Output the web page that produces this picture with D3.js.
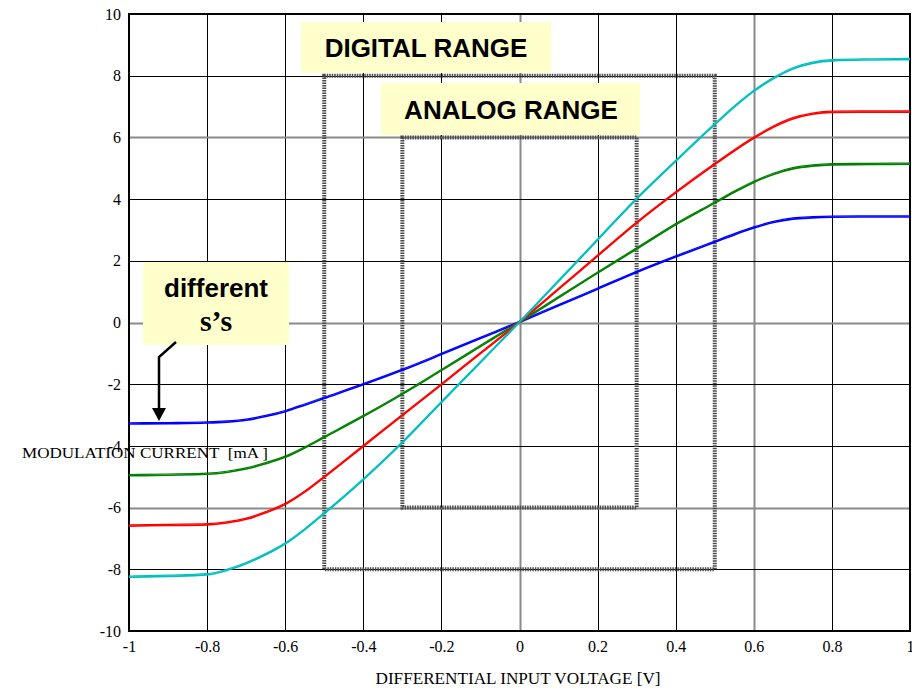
<!DOCTYPE html>
<html>
<head>
<meta charset="utf-8">
<script src="https://cdn.jsdelivr.net/npm/d3@7"></script>
<style>
  body { margin: 0; background: #fff; }
  svg { display: block; }
</style>
</head>
<body>
<div class="graph"></div>
<script>
// values
const voltage = [-1, -0.9, -0.8, -0.75, -0.7, -0.65, -0.6, -0.55, -0.5, -0.4, -0.3, -0.2, -0.1, 0, 0.1, 0.2, 0.3, 0.4, 0.5, 0.55, 0.6, 0.65, 0.7, 0.75, 0.8, 0.9, 1];
const blueCurrent  = [-3.29, -3.28, -3.26, -3.23, -3.17, -3.05, -2.89, -2.68, -2.46, -2.02, -1.55, -1.04, -0.52, 0, 0.54, 1.08, 1.62, 2.12, 2.6, 2.84, 3.06, 3.24, 3.35, 3.39, 3.41, 3.42, 3.42];
const greenCurrent = [-4.97, -4.95, -4.92, -4.86, -4.75, -4.58, -4.37, -4.07, -3.73, -3.05, -2.33, -1.56, -0.78, 0, 0.8, 1.6, 2.38, 3.17, 3.87, 4.22, 4.54, 4.8, 4.98, 5.07, 5.11, 5.12, 5.13];
const redCurrent   = [-6.6, -6.58, -6.56, -6.5, -6.38, -6.17, -5.9, -5.5, -5.02, -4.02, -3.02, -2.02, -1.01, 0, 1.07, 2.15, 3.22, 4.2, 5.12, 5.56, 5.97, 6.33, 6.6, 6.75, 6.81, 6.82, 6.82];
const cyanCurrent  = [-8.26, -8.23, -8.18, -8.04, -7.82, -7.53, -7.18, -6.72, -6.2, -5.1, -3.9, -2.6, -1.3, 0, 1.33, 2.67, 4.0, 5.22, 6.41, 6.98, 7.49, 7.9, 8.22, 8.4, 8.48, 8.51, 8.52];
const series = [
  { name: "blue", values: blueCurrent, color: "#0000ff" },
  { name: "green", values: greenCurrent, color: "#008000" },
  { name: "red", values: redCurrent, color: "#ff0000" },
  { name: "cyan", values: cyanCurrent, color: "#00bfbf" }
];
const xTicks = [-1, -0.8, -0.6, -0.4, -0.2, 0, 0.2, 0.4, 0.6, 0.8, 1];
const yTicks = [-10, -8, -6, -4, -2, 0, 2, 4, 6, 8, 10];
const greyX = [0, 0.6];
const greyY = [-6, 0, 6];
// ranges: [x0, x1, y0, y1]
const digitalRange = [-0.5, 0.5, -8, 8];
const analogRange = [-0.3, 0.3, -6, 6];

const W = 912, H = 690;
const margin = { left: 129, right: 2, top: 14, bottom: 59 };
const width = W - margin.left - margin.right;
const height = H - margin.top - margin.bottom;

const svg = d3.select(".graph").append("svg").attr("width", W).attr("height", H);
const g = svg.append("g").attr("transform", "translate(" + margin.left + "," + margin.top + ")");

const xScale = d3.scaleLinear().domain([-1, 1]).range([0, width]);
const yScale = d3.scaleLinear().domain([-10, 10]).range([height, 0]);

// grid
g.append("g").selectAll("line").data(xTicks).join("line")
  .attr("x1", d => Math.round(xScale(d)) + 0.5).attr("x2", d => Math.round(xScale(d)) + 0.5)
  .attr("y1", 0).attr("y2", height)
  .attr("stroke", d => greyX.includes(d) ? "#8a8a8a" : "#000")
  .attr("stroke-width", d => greyX.includes(d) ? 2 : 1);
g.append("g").selectAll("line").data(yTicks).join("line")
  .attr("y1", d => Math.round(yScale(d)) + 0.5).attr("y2", d => Math.round(yScale(d)) + 0.5)
  .attr("x1", 0).attr("x2", width)
  .attr("stroke", d => greyY.includes(d) ? "#8a8a8a" : "#000")
  .attr("stroke-width", d => greyY.includes(d) ? 2 : 1);

// axes
const serif = "'Liberation Serif', 'Times New Roman', serif";
const xaxis = d3.axisBottom(xScale).tickValues(xTicks).tickSize(0).tickPadding(10)
  .tickFormat(d => String(d));
g.append("g").attr("transform", "translate(0," + height + ")").call(xaxis)
  .attr("font-family", serif).attr("font-size", 16)
  .call(a => a.select(".domain").remove())
  .selectAll("text").attr("fill", "#000");
const yaxis = d3.axisLeft(yScale).tickValues(yTicks).tickSize(0).tickPadding(8)
  .tickFormat(d => String(d));
g.append("g").call(yaxis)
  .attr("font-family", serif).attr("font-size", 16)
  .call(a => a.select(".domain").remove())
  .selectAll("text").attr("fill", "#000");

g.append("rect").attr("x", 0).attr("y", 0).attr("width", width).attr("height", height)
  .attr("fill", "none").attr("stroke", "#000").attr("stroke-width", 2);

// range boxes
const rangeRect = (r) => g.append("rect")
  .attr("x", xScale(r[0])).attr("y", yScale(r[3]))
  .attr("width", xScale(r[1]) - xScale(r[0])).attr("height", yScale(r[2]) - yScale(r[3]))
  .attr("fill", "none").attr("stroke", "#4a4a4a").attr("stroke-width", 4)
  .attr("stroke-dasharray", "1.5,1");
rangeRect(digitalRange);
rangeRect(analogRange);

// curves (drawn twice, slightly offset, like the doubled traces)
const line = d3.line().x((d, i) => xScale(voltage[i])).y(d => yScale(d)).curve(d3.curveMonotoneX);
series.forEach(s => {
  g.append("path").attr("d", line(s.values)).attr("fill", "none")
    .attr("stroke", s.color).attr("stroke-width", 1.6);
  g.append("path").attr("d", line(s.values)).attr("fill", "none")
    .attr("transform", "translate(0,-1.2)")
    .attr("stroke", s.color).attr("stroke-width", 1.2);
});

// yellow labels
const sans = "'Liberation Sans', Arial, sans-serif";
const note = (x, y, w, h) => svg.append("rect").attr("x", x).attr("y", y).attr("width", w).attr("height", h).attr("fill", "#ffffcc");
note(301, 22, 250, 51);
svg.append("text").attr("x", 426).attr("y", 57).attr("text-anchor", "middle")
  .style("font-family", sans).style("font-weight", "bold").style("font-size", "26px").text("DIGITAL RANGE");
note(381, 83, 259, 52);
svg.append("text").attr("x", 511).attr("y", 119).attr("text-anchor", "middle")
  .style("font-family", sans).style("font-weight", "bold").style("font-size", "26px").text("ANALOG RANGE");
note(143, 262, 146, 83);
svg.append("text").attr("x", 216).attr("y", 297).attr("text-anchor", "middle")
  .style("font-family", sans).style("font-weight", "bold").style("font-size", "26px").text("different");
svg.append("text").attr("x", 216).attr("y", 331).attr("text-anchor", "middle")
  .style("font-family", serif).style("font-weight", "bold").style("font-size", "30px")
  .text("s’s");

// arrow
svg.append("path").attr("d", "M176,342 L159,357 L159,409").attr("fill", "none")
  .attr("stroke", "#000").attr("stroke-width", 2.5);
svg.append("path").attr("d", "M152,408 L166,408 L159,421 Z").attr("fill", "#000");

// axis titles
svg.append("text").attr("x", 22).attr("y", 458)
  .style("font-family", serif).style("font-size", "15px")
  .attr("xml:space", "preserve").attr("textLength", 246).attr("lengthAdjust", "spacingAndGlyphs")
  .text("MODULATION CURRENT  [mA ]");
svg.append("text").attr("x", 518).attr("y", 684).attr("text-anchor", "middle")
  .style("font-family", serif).style("font-size", "16px")
  .attr("textLength", 285).attr("lengthAdjust", "spacingAndGlyphs")
  .text("DIFFERENTIAL INPUT VOLTAGE [V]");
</script>
</body>
</html>
